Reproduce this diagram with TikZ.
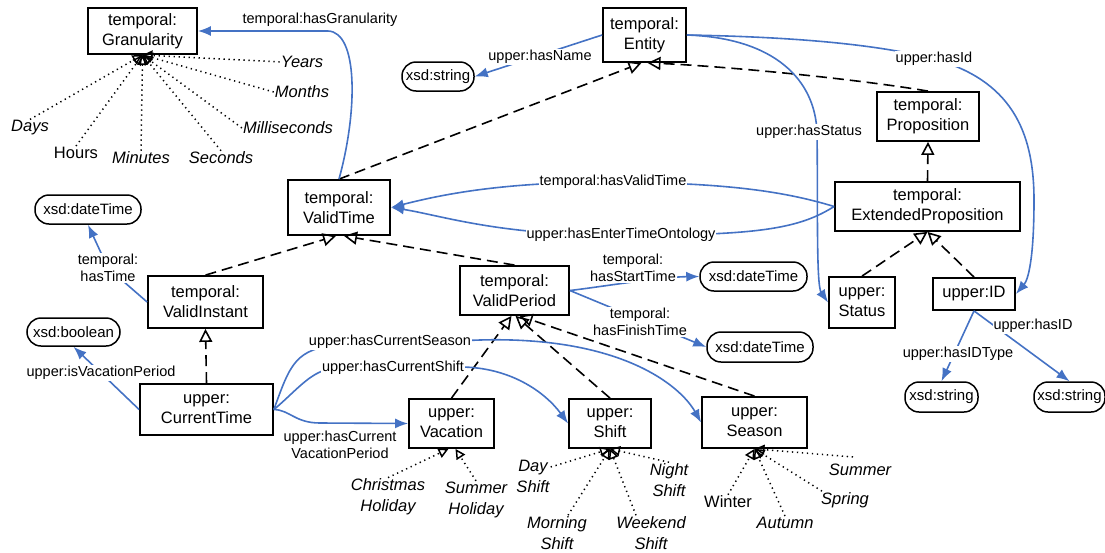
\documentclass[tikz,border=0pt]{standalone}
\usepackage{fontspec}
\setmainfont{Liberation Sans}
\usetikzlibrary{arrows.meta,calc}
\definecolor{propblue}{HTML}{4472C4}
\tikzset{
 cls/.style={draw, line width=1.8pt, align=center, inner sep=0pt, font=\fontsize{16.5}{20}\selectfont},
 dtype/.style={draw, line width=1.5pt, rounded corners=14pt, inner sep=0pt, font=\fontsize{15}{18}\selectfont},
 lbl/.style={fill=white, inner sep=1pt, align=center, font=\fontsize{14.5}{17}\selectfont},
 ind/.style={align=center, inner sep=1pt, font=\fontsize{16.5}{21}\selectfont\itshape},
 indup/.style={align=center, inner sep=1pt, font=\fontsize{16.5}{21}\selectfont},
 subcls/.style={line width=1.6pt, dash pattern=on 11pt off 6pt, -{Triangle[open,length=13pt,width=13pt]}},
 instof/.style={line width=1.5pt, dash pattern=on 1.3pt off 3.7pt, -{Triangle[open,length=10pt,width=10pt]}},
 prop/.style={propblue, line width=1.6pt, -{Latex[length=13pt,width=10pt]}},
}
\begin{document}
\begin{tikzpicture}[x=1pt,y=-1pt]
\useasboundingbox (0,0) rectangle (1105,552);
% classes
\node[cls, minimum width=109, minimum height=46] (gran) at (142.5,31) {temporal:\\Granularity};
\node[cls, minimum width=83, minimum height=54] (entity) at (644.5,35) {temporal:\\Entity};
\node[cls, minimum width=102, minimum height=49] (prop) at (928,116.5) {temporal:\\Proposition};
\node[cls, minimum width=185, minimum height=49] (ext) at (927.5,206.5) {temporal:\\ExtendedProposition};
\node[cls, minimum width=102, minimum height=55] (vt) at (339,207.5) {temporal:\\ValidTime};
\node[cls, minimum width=115, minimum height=52] (vi) at (205.5,302) {temporal:\\ValidInstant};
\node[cls, minimum width=133, minimum height=51] (ct) at (206.5,409.5) {upper:\\CurrentTime};
\node[cls, minimum width=109, minimum height=49] (vp) at (514.5,290.5) {temporal:\\ValidPeriod};
\node[cls, minimum width=66, minimum height=51] (status) at (862,302.5) {upper:\\Status};
\node[cls, minimum width=82, minimum height=32] (id) at (974,294) {upper:ID};
\node[cls, minimum width=105, minimum height=51] (season) at (754.5,422.5) {upper:\\Season};
\node[cls, minimum width=82, minimum height=49] (shift) at (610,423.5) {upper:\\Shift};
\node[cls, minimum width=85, minimum height=49] (vac) at (451.5,423.5) {upper:\\Vacation};
% datatypes
\node[dtype, minimum width=72, minimum height=29] (str1) at (438,76.5) {xsd:string};
\node[dtype, minimum width=106, minimum height=29] (dt1) at (88,209.5) {xsd:dateTime};
\node[dtype, minimum width=93, minimum height=28] (bool) at (73.5,332) {xsd:boolean};
\node[dtype, minimum width=107, minimum height=29] (dt2) at (753.5,276.5) {xsd:dateTime};
\node[dtype, minimum width=106, minimum height=30] (dt3) at (760,347) {xsd:dateTime};
\node[dtype, minimum width=73, minimum height=30] (str2) at (941.5,397) {xsd:string};
\node[dtype, minimum width=71, minimum height=30] (str3) at (1069.5,397) {xsd:string};
% individuals
\node[ind] (years) at (302,62) {Years};
\node[ind] (months) at (302,92) {Months};
\node[ind] (msec) at (288,128) {Milliseconds};
\node[ind] (secs) at (221,158) {Seconds};
\node[ind] (mins) at (141,158) {Minutes};
\node[indup] (hours) at (76,153) {Hours};
\node[ind] (days) at (30,128) {Days};
\node[ind] (xmas) at (388,497) {Christmas\\Holiday};
\node[ind] (shol) at (476,500) {Summer\\Holiday};
\node[ind] (dshift) at (533,476) {Day\\Shift};
\node[ind] (nshift) at (669,480) {Night\\Shift};
\node[ind] (mshift) at (557,533) {Morning\\Shift};
\node[ind] (wshift) at (651,533) {Weekend\\Shift};
\node[ind] (summer) at (860,470) {Summer};
\node[ind] (spring) at (845,500) {Spring};
\node[ind] (autumn) at (785,523) {Autumn};
\node[indup] (winter) at (728,502) {Winter};
% instance-of edges
\foreach \n in {years,months,msec}{\draw[instof] (\n.west) -- (gran.south);}
\foreach \n in {secs,mins,hours,days}{\draw[instof] (\n.north) -- (gran.south);}
\draw[instof] (xmas.north) -- ($(vac.south)+(-3,0)$);
\draw[instof] (shol.north) -- ($(vac.south)+(4,0)$);
\draw[instof] ($(dshift.east)+(0,-9)$) -- (shift.south);
\draw[instof] (nshift.north) -- (shift.south);
\draw[instof] ($(mshift.north)+(11,0)$) -- (shift.south);
\draw[instof] ($(wshift.north)+(-15,0)$) -- (shift.south);
\draw[instof] ($(summer.north)+(-7,-6)$) -- (season.south);
\draw[instof] ($(spring.north west)+(2,0)$) -- (season.south);
\draw[instof] (autumn.north) -- (season.south);
\draw[instof] (winter.north) -- (season.south);
% subclass edges
\draw[subcls] (vt.north) -- ($(entity.south)+(-3,0)$);
\draw[subcls] (prop.north) .. controls (850,78) and (720,66) .. ($(entity.south)+(3,0)$);
\draw[subcls] (ext.north) -- (prop.south);
\draw[subcls] (status.north) -- (ext.south);
\draw[subcls] (id.north) -- (ext.south);
\draw[subcls] (vi.north) -- ($(vt.south)+(-3,0)$);
\draw[subcls] (vp.north) -- ($(vt.south)+(5,0)$);
\draw[subcls] (ct.north) -- (vi.south);
\draw[subcls] (vac.north) -- ($(vp.south)+(-3,0)$);
\draw[subcls] (shift.north) -- ($(vp.south)+(1,0)$);
\draw[subcls] (season.north) -- ($(vp.south)+(5,0)$);
% properties
\draw[prop] (vt.north) .. controls (358,110) and (358,32) .. (328,31) -- (gran.east);
\node[lbl, fill=none] (lgran) at (320,20) {temporal:hasGranularity};
\draw[prop] (entity.west) -- (str1.east);
\node[lbl] (lname) at (540,57) {upper:hasName};
\draw[prop] (entity.east) .. controls (800,37) and (880,45) .. (934,59)
  .. controls (1010,80) and (1034,130) .. (1034,200) .. controls (1034,260) and (1028,280) .. (id.east);
\node[lbl] (lid) at (934,59) {upper:hasId};
\draw[prop] (entity.east) .. controls (775,38) and (815,80) .. (817,132) .. controls (818,200) and (816,285) .. (status.west);
\node[lbl] (lstat) at (809,132) {upper:hasStatus};
\draw[prop] (ext.west) .. controls (780,190) and (720,183) .. (613,182) .. controls (500,182) and (440,195) .. (vt.east);
\node[lbl] (lvt) at (613,182) {temporal:hasValidTime};
\draw[prop] (ext.west) .. controls (800,228) and (760,236) .. (621,235) .. controls (500,236) and (440,215) .. (vt.east);
\node[lbl] (lent) at (621,235) {upper:hasEnterTimeOntology};
\draw[prop] (vi.west) -- (108,268) -- (dt1.south);
\node[lbl] (lhtime) at (108,268) {temporal:\\hasTime};
\draw[prop] (ct.west) -- (101,373) -- (bool.south);
\node[lbl] (lvacp) at (101,373) {upper:isVacationPeriod};
\draw[prop] (vp.east) .. controls (600,287) and (660,277) .. (dt2.west);
\node[lbl] (lstart) at (633,268) {temporal:\\hasStartTime};
\draw[prop] (vp.east) -- (dt3.west);
\node[lbl] (lfin) at (640,322) {temporal:\\hasFinishTime};
\draw[prop] (ct.east) .. controls (290,365) and (295,348) .. (340,345) -- (480,340)
  .. controls (620,336) and (680,385) .. (season.west);
\node[lbl] (lseason) at (390,342) {upper:hasCurrentSeason};
\draw[prop] (ct.east) .. controls (295,392) and (310,372) .. (330,369) -- (460,367)
  .. controls (510,367) and (545,392) .. (shift.west);
\node[lbl] (lshift) at (393,368) {upper:hasCurrentShift};
\draw[prop] (ct.east) .. controls (290,410) and (295,423) .. (320,423) -- (vac.west);
\node[lbl, fill=none] (lcvac) at (340,445) {upper:hasCurrent\\VacationPeriod};
\draw[prop] (id.south) -- (str2.north);
\node[lbl] (lidtype) at (958,354) {upper:hasIDType};
\draw[prop] (id.south) -- (str3.north);
\node[lbl] (lhasid) at (1033,326) {upper:hasID};
\end{tikzpicture}
\end{document}
